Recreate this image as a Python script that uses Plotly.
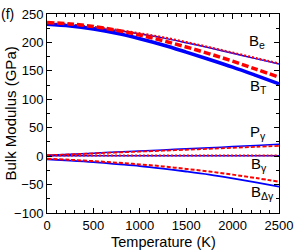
import plotly.graph_objects as go

T = [0, 250, 500, 750, 1000, 1250, 1500, 1750, 2000, 2250, 2500]

Be_blue = [232, 230, 226, 221, 215, 208, 199.5, 190.5, 181, 171.5, 162]
Be_red = [233.5, 231.3, 227.2, 222, 216, 209, 200.5, 191.5, 182, 172.5, 163]
BT_blue = [232, 229, 223.5, 216, 206.5, 195.5, 183, 170, 156.5, 142, 127]
BT_red = [235, 232.5, 228, 221.5, 213, 203, 192, 180, 167, 153, 139]
Pg_blue = [1.5, 3.4, 5.3, 7.2, 9.1, 11, 12.9, 14.8, 16.8, 18.8, 20.8]
Pg_red = [1.5, 3.1, 4.8, 6.4, 8.0, 9.6, 11.2, 12.9, 14.6, 16.3, 18]
Bg_blue = [0.5, 0.5, 0.5, 0.5, 0.5, 0.5, 0.5, 0.5, 0.5, 0.5, 0.5]
Bg_red = [1, 1, 1, 1, 1, 1, 1, 1, 1, 1, 1]
Bdg_blue = [-5.5, -7.8, -10.5, -14, -17.5, -22, -27, -32.5, -39, -46, -53.5]
Bdg_red = [-4.5, -6.5, -8.8, -11.5, -14.5, -18, -22.5, -27, -32.5, -38.5, -45]

label_text = ["B<sub>e</sub>", "B<sub>T</sub>", "P<sub>γ</sub>", "B<sub>γ</sub>", "B<sub>Δγ</sub>"]
label_T = [2160, 2165, 2170, 2180, 2175]
label_y = [202, 122, 42, -15, -64]

BLUE = "#0000ff"
RED = "#ff0000"
FONT = "Liberation Sans, Arial, Helvetica, sans-serif"

fig = go.Figure()

def add(y, color, width, dash):
    fig.add_trace(go.Scatter(x=T, y=y, mode="lines",
                             line=dict(color=color, width=width, dash=dash, shape="spline"),
                             showlegend=False, hoverinfo="skip"))

add(Be_blue, BLUE, 1.5, "solid")
add(Be_red, RED, 2.2, "2px,2px")
add(BT_blue, BLUE, 3.5, "solid")
add(BT_red, RED, 3.5, "7px,3px")
add(Pg_blue, BLUE, 1.5, "solid")
add(Pg_red, RED, 1.8, "4px,2px")
add(Bg_blue, BLUE, 1.5, "solid")
add(Bg_red, RED, 2, "2px,2px")
add(Bdg_blue, BLUE, 1.8, "solid")
add(Bdg_red, RED, 2, "4px,2px")

for t, x, y in zip(label_text, label_T, label_y):
    fig.add_annotation(x=x, y=y, text=t, showarrow=False, xanchor="left", yanchor="middle",
                       font=dict(size=15, color="black", family=FONT))

fig.add_annotation(x=0, y=1.0, xref="paper", yref="paper", xshift=-48, text="(f)", showarrow=False,
                   xanchor="left", yanchor="middle", font=dict(size=14, color="black", family=FONT))

fig.add_annotation(x=0.5, y=0, xref="paper", yref="paper", yshift=-19, text="Temperature (K)",
                   showarrow=False, xanchor="center", yanchor="top",
                   font=dict(size=14.5, color="black", family=FONT))
fig.add_annotation(x=0, y=0.5, xref="paper", yref="paper", xshift=-37, text="Bulk Modulus (GPa)",
                   showarrow=False, xanchor="center", yanchor="middle", textangle=-90,
                   font=dict(size=15, color="black", family=FONT))

axis_common = dict(showline=True, linecolor="black", linewidth=1, mirror="allticks", ticks="inside",
                   tickcolor="black", ticklen=5, tickwidth=1, showgrid=False, zeroline=False,
                   tickfont=dict(size=13, color="black", family=FONT))

fig.update_xaxes(range=[0, 2500], dtick=500, tick0=0,
                 minor=dict(dtick=100, ticks="inside", ticklen=3, tickcolor="black", showgrid=False),
                 **axis_common)
fig.update_yaxes(range=[-100, 250], dtick=50, tick0=0,
                 minor=dict(dtick=25, ticks="inside", ticklen=3, tickcolor="black", showgrid=False),
                 **axis_common)

fig.update_layout(width=300, height=250, margin=dict(l=47, r=15, t=7, b=37),
                  plot_bgcolor="white", paper_bgcolor="white", showlegend=False)

fig.write_html("out.html", config={"displayModeBar": False},
               post_script="document.body.style.margin='0px';")
